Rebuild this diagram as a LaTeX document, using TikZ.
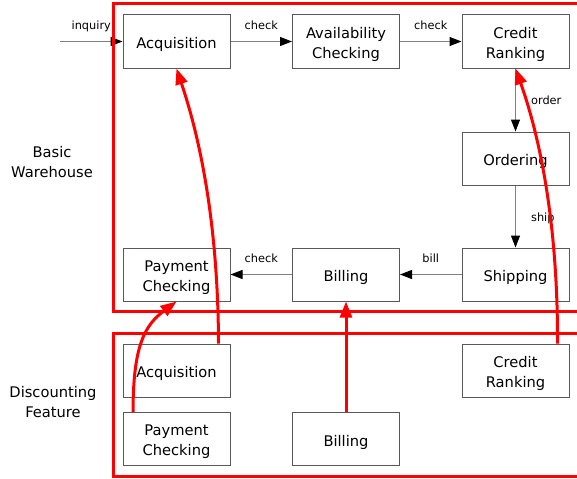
\documentclass[tikz,border=0pt]{standalone}
\usepackage{fontspec}
\setmainfont{DejaVu Sans}
\usetikzlibrary{arrows.meta}
\tikzset{
  feat/.style={draw=black!65, line width=0.75pt, minimum width=80.25pt, minimum height=39.75pt, inner sep=0pt, align=center, font=\fontsize{11}{15}\selectfont, execute at begin node={\rule{0pt}{13pt}}},
  feattwo/.style={feat, execute at begin node={\rule{0pt}{27.5pt}}},
  flow/.style={draw=black!50, line width=0.75pt, -{Triangle[length=9pt,width=6.75pt,color=black]}},
  lbl/.style={font=\fontsize{8.5}{10}\selectfont, text height=1.6ex, text depth=0.3ex},
  area/.style={draw=red, line width=2.25pt},
  link/.style={draw=red, line width=2.25pt, -{Triangle[length=12pt,width=9pt]}}
}
\begin{document}
\begin{tikzpicture}[x=0.75pt, y=-0.75pt]
    \clip (0,0) rectangle (577,478);
    \node[feat] (acq) at (176.5,41.5) {Acquisition};
    \node[feattwo] (avail) at (346,41.5) {Availability\\Checking};
    \node[feattwo] (credit) at (515.5,41.5) {Credit\\Ranking};
    \node[feat] (order) at (515.5,158.5) {Ordering};
    \node[feat] (ship) at (515.5,274.5) {Shipping};
    \node[feat] (bill) at (346,274.5) {Billing};
    \node[feattwo] (pay) at (176.5,274.5) {Payment\\Checking};
    \node[feat] (dacq) at (176.5,370.5) {Acquisition};
    \node[feattwo] (dpay) at (176.5,439) {Payment\\Checking};
    \node[feat] (dbill) at (346,439) {Billing};
    \node[feattwo] (dcredit) at (515.5,370.5) {Credit\\Ranking};
    \node[align=center, font=\fontsize{11}{15}\selectfont] (basic) at (52,162) {Basic\\Warehouse};
    \node[align=center, font=\fontsize{11}{15}\selectfont] (disc) at (53,402) {Discounting\\Feature};
    \coordinate (in) at (60,41.5);
    \draw[flow] (in) -- (acq) node[lbl, midway, above=4pt] {inquiry};
    \draw[flow] (acq) -- (avail) node[lbl, midway, above=4pt] {check};
    \draw[flow] (avail) -- (credit) node[lbl, midway, above=4pt] {check};
    \draw[flow] (credit) -- (order) node[lbl, midway, right=8pt] {order};
    \draw[flow] (order) -- (ship) node[lbl, midway, right=8pt] {ship};
    \draw[flow] (ship) -- (bill) node[lbl, midway, above=4pt] {bill};
    \draw[flow] (bill) -- (pay) node[lbl, midway, above=4pt] {check};
    \draw[area] (113,4) rectangle (600,311);
    \draw[area] (113,333) rectangle (600,476);
    \draw[link] ([xshift=31.5pt]dacq.north) .. controls (218,200) and (192,115) .. (acq.south);
    \draw[link] ([xshift=-32.6pt]dpay.north) .. controls (133,345) and (145,325) .. (pay.south);
    \draw[link] (dbill) -- (bill);
    \draw[link] ([xshift=31.5pt]dcredit.north) .. controls (558,200) and (532,115) .. (credit.south);
\end{tikzpicture}
\end{document}
